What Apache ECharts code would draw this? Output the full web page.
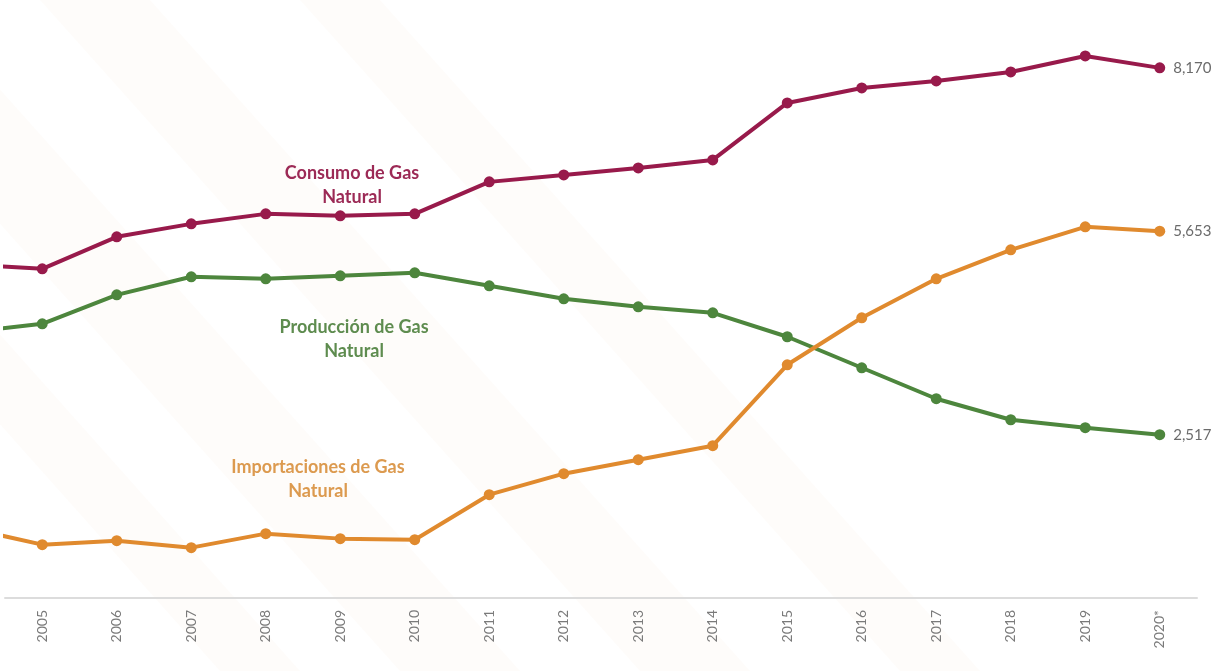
<!DOCTYPE html>
<html>
<head>
<meta charset="utf-8">
<script src="https://cdn.jsdelivr.net/npm/echarts@6/dist/echarts.min.js"></script>
<style>
html,body{margin:0;padding:0;background:#ffffff;}
#chart{width:1220px;height:671px;}
</style>
</head>
<body>
<div id="chart"></div>
<script>
// Years (2004 lies just off the visible left edge, the line enters from it)
const years = [2004, 2005, 2006, 2007, 2008, 2009, 2010, 2011, 2012, 2013, 2014, 2015, 2016, 2017, 2018, 2019, 2020];
const tickLabels = ['2005', '2006', '2007', '2008', '2009', '2010', '2011', '2012', '2013', '2014', '2015', '2016', '2017', '2018', '2019', '2020*'];

const consumo = [5140, 5073, 5566, 5766, 5920, 5889, 5920, 6413, 6520, 6628, 6751, 7629, 7860, 7968, 8107, 8353, 8170];
const produccion = [4098, 4226, 4672, 4950, 4919, 4965, 5011, 4811, 4611, 4488, 4395, 4026, 3548, 3071, 2747, 2624, 2517];
const importaciones = [1080, 822, 884, 776, 992, 915, 899, 1592, 1916, 2131, 2347, 3594, 4318, 4919, 5365, 5720, 5653];

const seriesNames = ['Consumo de Gas Natural', 'Producción de Gas Natural', 'Importaciones de Gas Natural'];

const colors = {
  consumo: '#981a4b',
  produccion: '#4d863d',
  importaciones: '#e08a2e'
};

const FONT = 'Lato, "Open Sans", "Noto Sans", sans-serif';

function pairs(vals) { return vals.map((v, i) => [years[i], v]); }
function fmt(v) { return v.toLocaleString('en-US'); }

function makeSeries(name, vals, color) {
  const data = pairs(vals).map((p, i) => {
    if (i === vals.length - 1) {
      return {
        value: p,
        label: {
          show: true, position: 'right', distance: 8,
          formatter: (d) => fmt(d.value[1]),
          color: '#6b6b6b', fontSize: 15, fontFamily: FONT
        }
      };
    }
    return p;
  });
  return {
    name: name,
    type: 'line',
    xAxisIndex: 0,
    yAxisIndex: 0,
    data: data,
    clip: true,
    symbol: 'circle',
    symbolSize: 11,
    showAllSymbol: true,
    lineStyle: { color: color, width: 4 },
    itemStyle: { color: color },
    emphasis: { disabled: true },
    z: 3
  };
}

const chart = echarts.init(document.getElementById('chart'), null, { renderer: 'canvas' });

const annotations = [
  { lines: ['Consumo de Gas', 'Natural'], x: 352, y: 173, color: '#9c2a56' },
  { lines: ['Producción de Gas', 'Natural'], x: 354, y: 327, color: '#5e8c4f' },
  { lines: ['Importaciones de Gas', 'Natural'], x: 318, y: 467, color: '#dc9a4f' }
];

const graphics = [];
// very faint decorative diagonal bands in the background
const bands = [
  [[-200, 0], [-80, 0], [520, 671], [400, 671]],
  [[40, 0], [150, 0], [750, 671], [640, 671]],
  [[300, 0], [380, 0], [980, 671], [900, 671]],
  [[-200, 200], [-120, 200], [300, 671], [220, 671]]
];
bands.forEach(b => {
  graphics.push({
    type: 'polygon',
    shape: { points: b },
    style: { fill: 'rgba(238, 214, 180, 0.07)' },
    silent: true,
    z: -10
  });
});
annotations.forEach(a => {
  a.lines.forEach((t, k) => {
    graphics.push({
      type: 'text',
      x: a.x, y: a.y + k * 24,
      style: {
        text: t,
        fill: a.color,
        font: 'bold 18px ' + FONT,
        align: 'center',
        verticalAlign: 'middle'
      },
      z: 10
    });
  });
});

chart.setOption({
  animation: false,
  backgroundColor: '#ffffff',
  grid: { left: 5, right: 23, top: 14, bottom: 73, containLabel: false },
  xAxis: [
    {
      type: 'value',
      min: 2004.5,
      max: 2020.5,
      show: false
    },
    {
      type: 'category',
      data: tickLabels,
      boundaryGap: true,
      position: 'bottom',
      axisLine: { show: true, lineStyle: { color: '#dcdcdc', width: 2 } },
      axisTick: { show: false },
      axisLabel: {
        rotate: 90,
        margin: 12,
        color: '#7a7a7a',
        fontSize: 14,
        fontFamily: FONT
      },
      splitLine: { show: false }
    }
  ],
  yAxis: {
    type: 'value',
    min: 0,
    max: 9000,
    show: false
  },
  graphic: graphics,
  series: [
    makeSeries(seriesNames[0], consumo, colors.consumo),
    makeSeries(seriesNames[1], produccion, colors.produccion),
    makeSeries(seriesNames[2], importaciones, colors.importaciones)
  ]
});
</script>
</body>
</html>
